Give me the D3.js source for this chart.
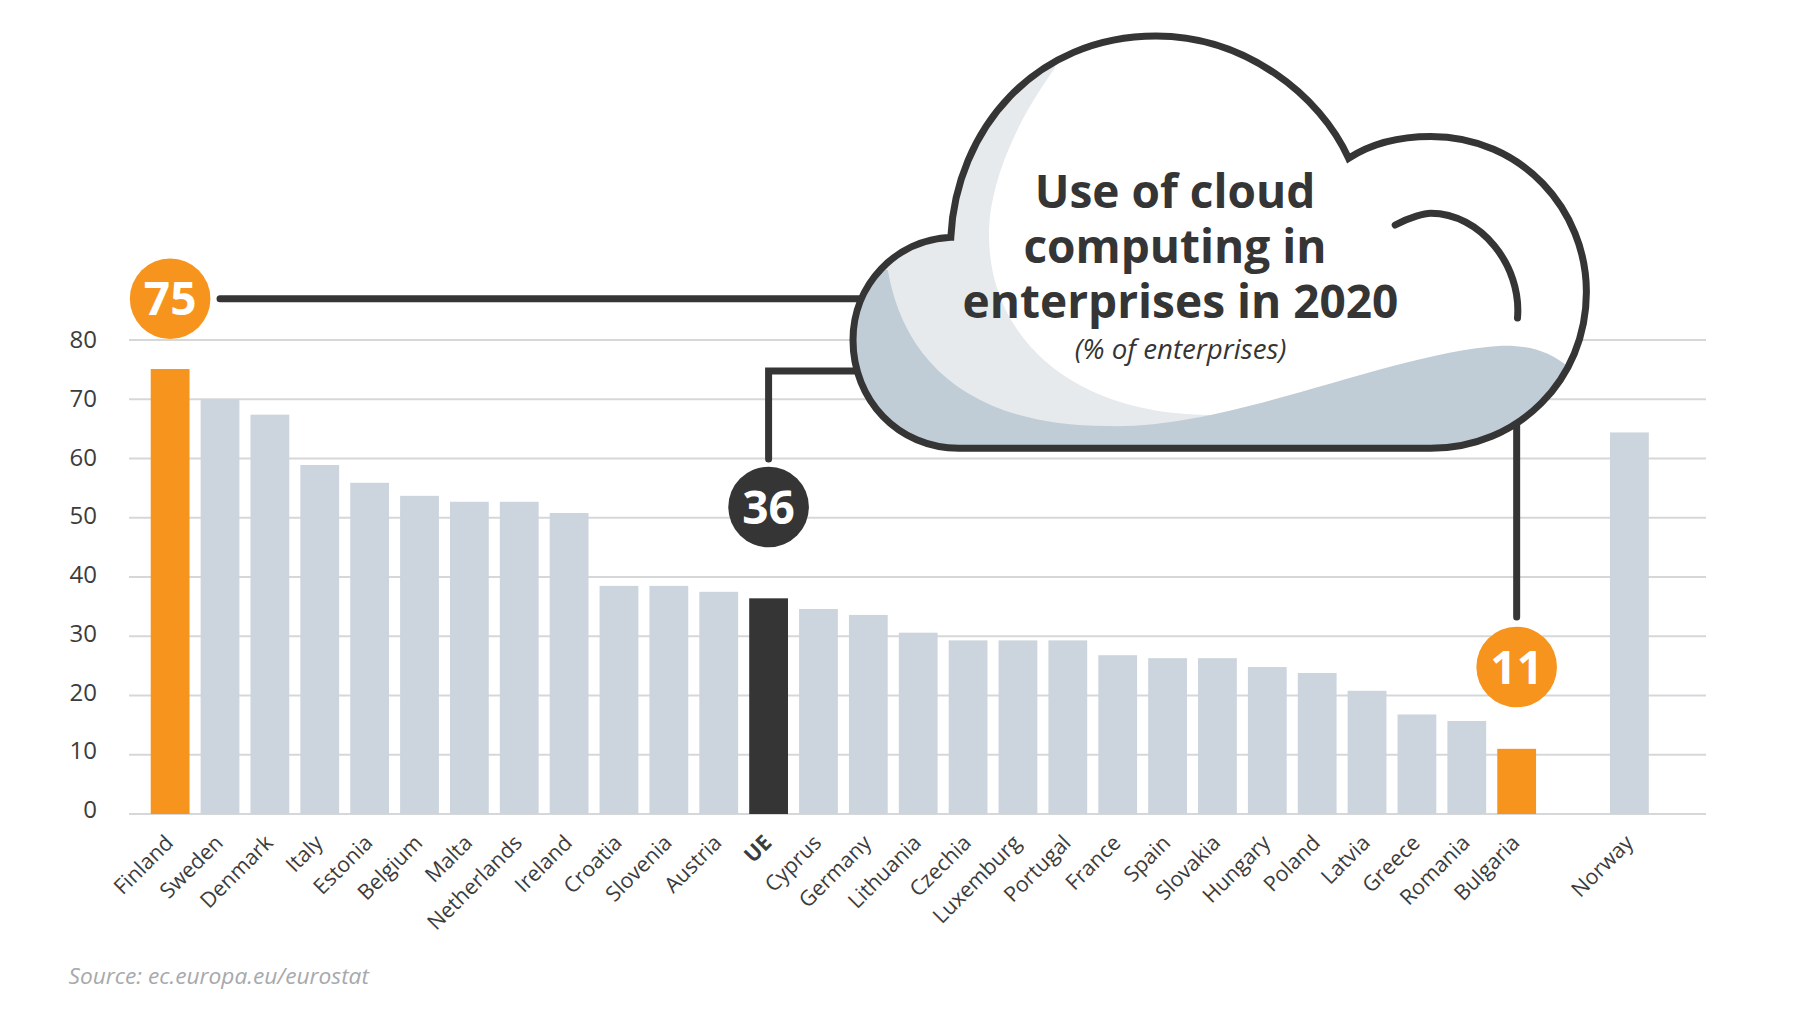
<!DOCTYPE html>
<html>
<head>
<meta charset="utf-8">
<title>Use of cloud computing in enterprises in 2020</title>
<script src="https://cdn.jsdelivr.net/npm/d3@7/dist/d3.min.js"></script>
<style>
  html, body { margin: 0; background: #fff; }
  svg { display: block; }
  svg text { font-family: "Open Sans", sans-serif; }
  .grid line { stroke: #d5d7d9; stroke-width: 2; }
  .axis-y text { font-size: 24px; fill: #3c3c3c; }
  .axis-x text { font-size: 21.4px; fill: #3c3c3c; }
  .leader { fill: none; stroke: #353535; stroke-width: 7; stroke-linecap: round; }
  .value-label { font-size: 46px; font-weight: 700; fill: #fff; text-anchor: middle; }
</style>
</head>
<body>
<div id="graph"></div>
<script>
// values
const countries = ['Finland','Sweden','Denmark','Italy','Estonia','Belgium','Malta','Netherlands','Ireland','Croatia','Slovenia','Austria','UE','Cyprus','Germany','Lithuania','Czechia','Luxemburg','Portugal','France','Spain','Slovakia','Hungary','Poland','Latvia','Greece','Romania','Bulgaria']
const shares = [75.1,70,67.4,58.9,55.9,53.7,52.7,52.7,50.8,38.5,38.5,37.5,36.4,34.6,33.6,30.6,29.3,29.3,29.3,26.8,26.3,26.3,24.8,23.8,20.8,16.8,15.7,11]
const outside = ['Norway']
const outsideShares = [64.4]
const yTicks = [0,10,20,30,40,50,60,70,80]
const highlights = [
  { name:'Finland', label:'75', color:'#f7941d' },
  { name:'UE', label:'36', color:'#353535' },
  { name:'Bulgaria', label:'11', color:'#f7941d' }
]
const titleLines = ['Use of cloud','computing in','enterprises in 2020']

const width = 1811
const height = 1025

const svg = d3.select('#graph').append('svg')
  .attr('width', width)
  .attr('height', height)

// Bars: EU block and Norway sit on separate band scales because of the gap
const xScale = d3.scaleBand().domain(countries).range([145.2, 1541.6]).paddingInner(0.222).paddingOuter(0.111)
const xOutside = d3.scaleBand().domain(outside).range([1605.5, 1655]).paddingInner(0).paddingOuter(0.111)
const yScale = d3.scaleLinear().domain([0,80]).range([814,340])
// The tick labels in the picture are spaced a little tighter than the grid
const yLabels = d3.scaleLinear().domain([0,80]).range([810,340])

const barX = name => countries.includes(name) ? xScale(name) : xOutside(name)
const barW = xScale.bandwidth()
const center = name => barX(name) + barW/2
const barColor = name => (highlights.find(h => h.name == name) || {color:'#ccd5dd'}).color

// Grid
svg.append('g').attr('class','grid')
  .selectAll('line').data(yTicks).enter().append('line')
  .attr('x1',129).attr('x2',1706)
  .attr('y1',d => yScale(d)).attr('y2',d => yScale(d))

// Y axis
const yAxis = d3.axisLeft(yLabels).tickValues(yTicks).tickSize(0).tickPadding(0)
svg.append('g').attr('class','axis-y').attr('transform','translate(97,0)').call(yAxis)
  .call(g => g.select('.domain').remove())

// Bars
const rows = countries.map((c,i) => ({name:c, value:shares[i]}))
  .concat(outside.map((c,i) => ({name:c, value:outsideShares[i]})))
svg.append('g').selectAll('rect').data(rows).enter().append('rect')
  .attr('x',d => barX(d.name))
  .attr('y',d => yScale(d.value))
  .attr('width',barW)
  .attr('height',d => yScale(0)-yScale(d.value))
  .attr('fill',d => barColor(d.name))

// X axis labels
function styleLabels(g){
  g.select('.domain').remove()
  g.selectAll('text')
    .attr('transform','rotate(-45)')
    .attr('text-anchor','end')
    .attr('x',-2).attr('y',2).attr('dy','.35em')
    .style('font-weight',d => d=='UE' ? 700 : 400)
}
svg.append('g').attr('class','axis-x').attr('transform','translate(-1,836)')
  .call(d3.axisBottom(xScale).tickSize(0).tickPadding(0)).call(styleLabels)
svg.append('g').attr('class','axis-x').attr('transform','translate(-1,836)')
  .call(d3.axisBottom(xOutside).tickSize(0).tickPadding(0)).call(styleLabels)

// Leaders from the cloud to the value circles
const circleY = {Finland:298.7, UE:507, Bulgaria:667}
const leaders = [
  [[220,circleY.Finland],[880,circleY.Finland]],
  [[center('UE'),459],[center('UE'),371],[880,371]],
  [[center('Bulgaria'),400],[center('Bulgaria'),617]]
]
svg.append('g').selectAll('path').data(leaders).enter().append('path')
  .attr('class','leader')
  .attr('d',d3.line())

// Value circles
const bubble = svg.append('g').selectAll('g').data(highlights).enter().append('g')
  .attr('transform',d => `translate(${center(d.name)},${circleY[d.name]})`)
bubble.append('circle').attr('r',40.3).attr('fill',d => d.color)
bubble.append('text').attr('class','value-label').attr('y',16.5).text(d => d.label)

// Cloud, hand traced
const cloudPath = 'M950.8,237.3 C956,130 1035,36 1156,36 C1245,36 1320,95 1348.6,158.3'
  + ' C1372,143 1402,136.5 1430.8,136.5 C1522,136.5 1586.4,210 1586.4,292'
  + ' C1586.4,380 1518,448.3 1430.8,448.3 L959,448.3'
  + ' C898,448.3 853,400 853,340 C853,285 895,240 950.8,237.3 Z'
const lightShade = 'M1055,68 C1010,130 989,190 989,235 C989,340 1075,415 1211,415 L1211,470 L840,470 L840,20 L1055,20 Z'
const darkShade = 'M887.8,270 C905,370 980,426 1107,426 C1230,430 1390,352 1502,345.7 C1530,345 1550,352 1566,365 L1600,470 L840,470 L840,270 Z'
const innerArc = 'M1395.2,225 C1410,217 1425,213.3 1430.8,213.3 C1480,213.3 1522,265 1517.5,318'

svg.append('clipPath').attr('id','cloud-clip').append('path').attr('d',cloudPath)
const cloud = svg.append('g')
cloud.append('path').attr('d',cloudPath).attr('fill','#fff')
const shade = cloud.append('g').attr('clip-path','url(#cloud-clip)')
shade.append('path').attr('fill','#e6eaed').attr('d',lightShade)
shade.append('path').attr('fill','#c0cdd6').attr('d',darkShade)
cloud.append('path').attr('d',cloudPath)
  .attr('fill','none').attr('stroke','#353535').attr('stroke-width',7).attr('stroke-linejoin','miter')
cloud.append('path').attr('class','leader').attr('d',innerArc)

// Title
svg.append('g').selectAll('text').data(titleLines).enter().append('text')
  .attr('x',(d,i) => i<2 ? 1175 : 1180.5).attr('y',(d,i) => 208 + i*55.2)
  .attr('text-anchor','middle')
  .style('font-size','46px').style('font-weight',700).style('fill','#353535')
  .text(d => d)
svg.append('text').attr('x',1180.5).attr('y',359)
  .attr('text-anchor','middle')
  .style('font-size','27.7px').style('font-style','italic').style('fill','#353535')
  .text('(% of enterprises)')

// Source
svg.append('text').attr('x',68.5).attr('y',984)
  .style('font-size','22.7px').style('font-style','italic').style('fill','#a7a9ac')
  .text('Source: ec.europa.eu/eurostat')
</script>
</body>
</html>
